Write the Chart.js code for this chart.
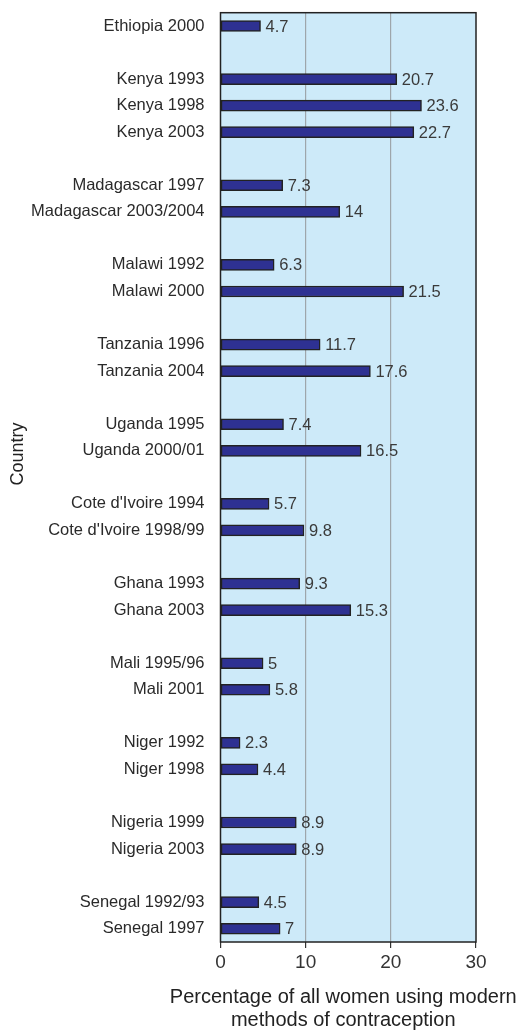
<!DOCTYPE html>
<html lang="en">
<head>
  <meta charset="UTF-8">
  <title>Modern contraception use</title>
  <script src="https://cdn.jsdelivr.net/npm/chart.js"></script>
  <style>
    html, body { margin: 0; padding: 0; background: #fff; }
    canvas { display: block; }
  </style>
</head>
<body>
  <canvas id="contraChart" width="524" height="1032"></canvas>

<script>
// rows from top to bottom, '' = spacer row between countries
const surveys = [
  'Ethiopia 2000', '',
  'Kenya 1993', 'Kenya 1998', 'Kenya 2003', '',
  'Madagascar 1997', 'Madagascar 2003/2004', '',
  'Malawi 1992', 'Malawi 2000', '',
  'Tanzania 1996', 'Tanzania 2004', '',
  'Uganda 1995', 'Uganda 2000/01', '',
  "Cote d'Ivoire 1994", "Cote d'Ivoire 1998/99", '',
  'Ghana 1993', 'Ghana 2003', '',
  'Mali 1995/96', 'Mali 2001', '',
  'Niger 1992', 'Niger 1998', '',
  'Nigeria 1999', 'Nigeria 2003', '',
  'Senegal 1992/93', 'Senegal 1997'
];
const modernUse = [
  4.7, null,
  20.7, 23.6, 22.7, null,
  7.3, 14, null,
  6.3, 21.5, null,
  11.7, 17.6, null,
  7.4, 16.5, null,
  5.7, 9.8, null,
  9.3, 15.3, null,
  5, 5.8, null,
  2.3, 4.4, null,
  8.9, 8.9, null,
  4.5, 7
];
const xTicks = [0, 10, 20, 30];
const xTitle = ['Percentage of all women using modern', 'methods of contraception'];
const yTitle = 'Country';

const FONT = "'Liberation Sans', Arial, Helvetica, sans-serif";

// light blue panel + frame, value labels, axis titles
const decor = {
  id: 'decor',
  beforeDraw(chart) {
    const {ctx, chartArea: a} = chart;
    ctx.save();
    ctx.fillStyle = '#cdeaf9';
    ctx.fillRect(a.left, a.top, a.right - a.left, a.bottom - a.top);
    ctx.restore();
  },
  afterDatasetsDraw(chart) {
    const {ctx, chartArea: a} = chart;
    ctx.save();
    ctx.strokeStyle = '#222';
    ctx.lineWidth = 1.5;
    ctx.strokeRect(a.left, a.top, a.right - a.left, a.bottom - a.top);

    ctx.fillStyle = '#3a3a3a';
    ctx.font = '16.5px ' + FONT;
    ctx.textBaseline = 'middle';
    ctx.textAlign = 'left';
    chart.getDatasetMeta(0).data.forEach((bar, i) => {
      const v = modernUse[i];
      if (v === null) return;
      ctx.fillText(String(v), bar.x + 5, bar.y + 1);
    });

    // x title (drawn here so it is not squeezed to the plot width)
    ctx.fillStyle = '#222';
    ctx.font = '20px ' + FONT;
    ctx.textAlign = 'center';
    const cx = (a.left + a.right) / 2 - 5;
    xTitle.forEach((t, i) => ctx.fillText(t, cx, 997 + i * 23));

    // y title
    ctx.translate(18, 454);
    ctx.rotate(-Math.PI / 2);
    ctx.font = '18px ' + FONT;
    ctx.fillText(yTitle, 0, 0);
    ctx.restore();
  }
};

new Chart(document.getElementById('contraChart').getContext('2d'), {
  type: 'bar',
  data: {
    labels: surveys,
    datasets: [{
      data: modernUse,
      backgroundColor: '#2e3192',
      borderColor: '#222',
      borderWidth: 1.5,
      borderSkipped: false,
      barThickness: 11
    }]
  },
  options: {
    indexAxis: 'y',
    responsive: false,
    animation: false,
    layout: { padding: { top: 12.7, right: 48, left: 0, bottom: 0 } },
    plugins: {
      legend: { display: false },
      tooltip: { enabled: false }
    },
    scales: {
      x: {
        min: 0,
        max: 30,
        afterBuildTicks: s => { s.ticks = xTicks.map(v => ({ value: v })); },
        afterFit: s => { s.height = 90; },
        ticks: {
          color: '#333',
          font: { family: FONT, size: 19 },
          padding: 3
        },
        grid: {
          color: c => (c.tick && (c.tick.value === 10 || c.tick.value === 20)) ? '#9ea6ab' : 'rgba(0,0,0,0)',
          lineWidth: 1.2,
          tickColor: '#333',
          tickLength: 6
        },
        border: { display: false }
      },
      y: {
        afterFit: s => {
          s.width = 220.5;
          s.paddingTop = 0;
          s.paddingBottom = 0;
        },
        ticks: {
          autoSkip: false,
          color: '#2a2a2a',
          font: { family: FONT, size: 16.5 },
          padding: 8
        },
        grid: { display: false },
        border: { display: false }
      }
    }
  },
  plugins: [decor]
});
</script>
</body>
</html>
